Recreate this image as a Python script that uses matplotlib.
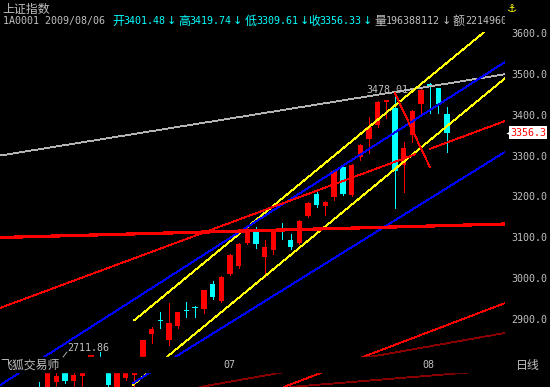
import matplotlib
matplotlib.use("Agg")
import matplotlib.pyplot as plt
from matplotlib.patches import Rectangle
from matplotlib.lines import Line2D
from matplotlib.transforms import Bbox, TransformedBbox, blended_transform_factory

# ----------------- data -----------------
opens = [2731, 2725, 2746, 2780, 2748, 2761, 2808, 2800, 2790, 2728, 2756, 2763,
         2795, 2863, 2896, 2849, 2883, 2920, 2928, 2924.5, 2986, 2944, 3010, 3030,
         3086, 3113, 3052, 3069, 3114, 3093, 3086, 3152, 3206, 3177, 3199, 3272,
         3203.5, 3296.5, 3340.6, 3375, 3431, 3416, 3277, 3350, 3426, 3475, 3465, 3401.48]
highs = [2746, 2795, 2780, 2790, 2785, 2800, 2811, 2819, 2800, 2800, 2798, 2799,
         2849.5, 2880, 2917, 2939, 2917, 2942, 2932, 2972, 2993, 3005, 3059, 3086,
         3122, 3125, 3093.5, 3115, 3135, 3108, 3142, 3186, 3218, 3189, 3264, 3274,
         3279, 3328, 3394, 3433, 3437, 3448, 3333, 3411, 3462, 3478.01, 3466, 3419.74]
lows = [2711.86, 2718, 2725, 2743, 2720, 2725, 2790, 2774, 2730, 2725, 2750, 2730,
        2790, 2841, 2878, 2836, 2878, 2905, 2905, 2915, 2949, 2942, 3008, 3025,
        3084, 3074, 3003, 3059, 3096, 3071, 3084, 3150, 3174, 3155, 3191, 3204,
        3201, 3289, 3306, 3370, 3392, 3172, 3211, 3333, 3397, 3404, 3404, 3309.61]
closes = [2716, 2785, 2761, 2748, 2763, 2790, 2811, 2780, 2739, 2795, 2795, 2795,
          2849, 2876, 2895, 2890, 2917, 2919, 2927, 2971, 2954, 3003, 3057, 3084,
          3120, 3084, 3076, 3113, 3112, 3076, 3140, 3184, 3179, 3186, 3262, 3206,
          3277, 3326, 3370, 3431, 3436, 3262, 3318, 3409, 3460, 3470, 3426, 3356.33]

month_labels = ["07", "08"]
month_index = [21, 44]

y_ticks = [2900, 3000, 3100, 3200, 3300, 3400, 3500, 3600]

# user drawn lines: (x0, p0, x1, p1) in candle index / price
lines_gray = [(-4.47, 3300, 53.67, 3499)]
lines_yellow = [(11, 2897, 51.2, 3601), (10.8, 2738, 53.67, 3489)]
lines_blue = [(-4.47, 2738, 53.67, 3529), (10.84, 2743, 53.67, 3309)]
lines_red = [(-4.47, 2927, 43.31, 3303), (45.04, 3316.5, 53.67, 3384.6),
             (41.0, 3452, 45.04, 3271), (28.2, 2733.6, 53.67, 2939)]
lines_darkred = [(18.56, 2733.6, 53.67, 2865.8), (28.92, 2733.6, 49.98, 2770)]
line_thick = (-4.47, 3099.5, 53.67, 3132.5)

quote_names = ["开", "高", "低", "收"]
quote_values = [3401.48, 3419.74, 3309.61, 3356.33]
volume = 196388112
amount = 2214960000

# ----------------- figure -----------------
W, H = 550, 387
GRAY = "#c0c0c0"
RED = "#ff0000"
CYAN = "#00ffff"
MONO = ["DejaVu Sans Mono", "Noto Sans CJK SC"]
CJK = ["Noto Sans CJK SC", "DejaVu Sans"]

def fx(x):
    return x / W

def fy(y):
    return 1 - y / H

fig = plt.figure(figsize=(5.5, 3.87), dpi=100, facecolor="black")
ax = fig.add_axes([0, 0, 505 / W, (H - 32) / H])
ax.set_facecolor("black")
ax.set_xlim(-4.47, 53.67)
ax.set_ylim(2733.6, 3602.4)
for s in ax.spines.values():
    s.set_visible(False)

# candles
xs = list(range(len(opens)))
cols = [RED if c >= o else CYAN for o, c in zip(opens, closes)]
bottoms = [min(o, c) for o, c in zip(opens, closes)]
heights = [max(abs(c - o), 2.4) for o, c in zip(opens, closes)]
ax.vlines(xs, lows, highs, colors=cols, linewidth=0.65, antialiased=False, zorder=2)
ax.bar(xs, heights, bottom=bottoms, width=0.62, color=cols, linewidth=0,
       antialiased=False, zorder=3)

# drawn lines
def draw(segs, color, lw=0.6):
    for x0, p0, x1, p1 in segs:
        ax.plot([x0, x1], [p0, p1], color=color, lw=lw, antialiased=False, zorder=4)

draw(lines_gray, "#b4b4b4")
draw(lines_yellow, "#ffff00")
draw(lines_blue, "#0000ff")
draw(lines_red, RED)
draw(lines_darkred, "#8a0000")
draw([line_thick], RED, lw=1.6)

# date strip
ax.add_patch(Rectangle((0, 15 / 355), 1, 15 / 355, transform=ax.transAxes,
                       color="black", zorder=10))
bt = blended_transform_factory(ax.transData, fig.transFigure)
for lab, k in zip(month_labels, month_index):
    ax.text(k + 0.2, fy(368), lab, transform=bt, color=GRAY, fontsize=7.2,
            family=MONO, va="baseline", ha="left", zorder=11)
fig.text(fx(0), fy(369), "飞狐交易师", color=GRAY, fontsize=8.6, family=CJK, va="baseline")
fig.text(fx(516), fy(369), "日线", color=GRAY, fontsize=8.6, family=CJK, va="baseline")

# high / low markers
k_hi = highs.index(max(highs))
ax.annotate(f"{max(highs):.2f}", xy=(k_hi, max(highs)), xytext=(-63, -10),
            textcoords="offset pixels", color=GRAY, fontsize=7.2, family=MONO,
            va="baseline", ha="left", zorder=6)
k_lo = lows.index(min(lows))
ax.annotate(f"{min(lows):.2f}", xy=(k_lo, min(lows)), xytext=(28, 44.6),
            textcoords="offset pixels", color=GRAY, fontsize=7.2, family=MONO,
            va="baseline", ha="left", zorder=6, annotation_clip=False)
fig.add_artist(Line2D([fx(63), fx(67)], [fy(357), fy(352)], color=GRAY, lw=0.6))

# right axis
ax.yaxis.tick_right()
ax.set_yticks(y_ticks)
ax.set_yticklabels([f"{t:.1f}" for t in y_ticks])
ax.set_xticks([])
ax.tick_params(axis="y", length=0, pad=4.3, labelcolor=GRAY, labelsize=7.2)
for lbl in ax.get_yticklabels():
    lbl.set_fontfamily(MONO)

# last price tag
bt2 = blended_transform_factory(ax.transAxes, ax.transData)
ax.plot([1.008], [closes[-1]], marker="<", ms=4, color="white", mec="none",
        transform=bt2, clip_on=False, zorder=7)
ax.annotate(f"{closes[-1]:.1f}", xy=(1, closes[-1]), xycoords=("axes fraction", "data"),
            xytext=(5, 0), textcoords="offset pixels", ha="left", va="center",
            color=RED, fontsize=7.2, family=MONO, annotation_clip=False,
            bbox=dict(boxstyle="square,pad=0.12", fc="white", ec="none"), zorder=8)

# header
fig.text(fx(2), fy(13), "上证指数", color=GRAY, fontsize=8.6, family=CJK, va="baseline")
fig.text(fx(3), fy(24), "1A0001 2009/08/06", color=GRAY, fontsize=7.2, family=MONO,
         va="baseline")
quote_x = [112, 178, 245, 308]
for name, val, qx in zip(quote_names, quote_values, quote_x):
    fig.text(fx(qx), fy(25), name, color=CYAN, fontsize=8.6, family=CJK, va="baseline")
    fig.text(fx(qx + 11.5), fy(24), f"{val:.2f}", color=CYAN, fontsize=7.2, family=MONO,
             va="baseline")
    fig.text(fx(qx + 54.5), fy(24), "↓", color=CYAN, fontsize=8, family="DejaVu Sans",
             va="baseline")
fig.text(fx(374), fy(25), "量", color=GRAY, fontsize=8.6, family=CJK, va="baseline")
fig.text(fx(386), fy(24), str(volume), color=GRAY, fontsize=7.2, family=MONO, va="baseline")
fig.text(fx(442), fy(24), "↓", color=GRAY, fontsize=8, family="DejaVu Sans", va="baseline")
fig.text(fx(453), fy(25), "额", color=GRAY, fontsize=8.6, family=CJK, va="baseline")
t = fig.text(fx(465), fy(24), str(amount), color=GRAY, fontsize=7.2, family=MONO,
             va="baseline")
t.set_clip_box(TransformedBbox(Bbox.from_extents(0, 0, 505 / W, 1), fig.transFigure))
t.set_clip_on(True)
fig.text(fx(507), fy(12), "⚓", color="#ffff00", fontsize=8, family="DejaVu Sans",
         va="baseline")

fig.savefig("out.png", dpi=100, facecolor="black")
